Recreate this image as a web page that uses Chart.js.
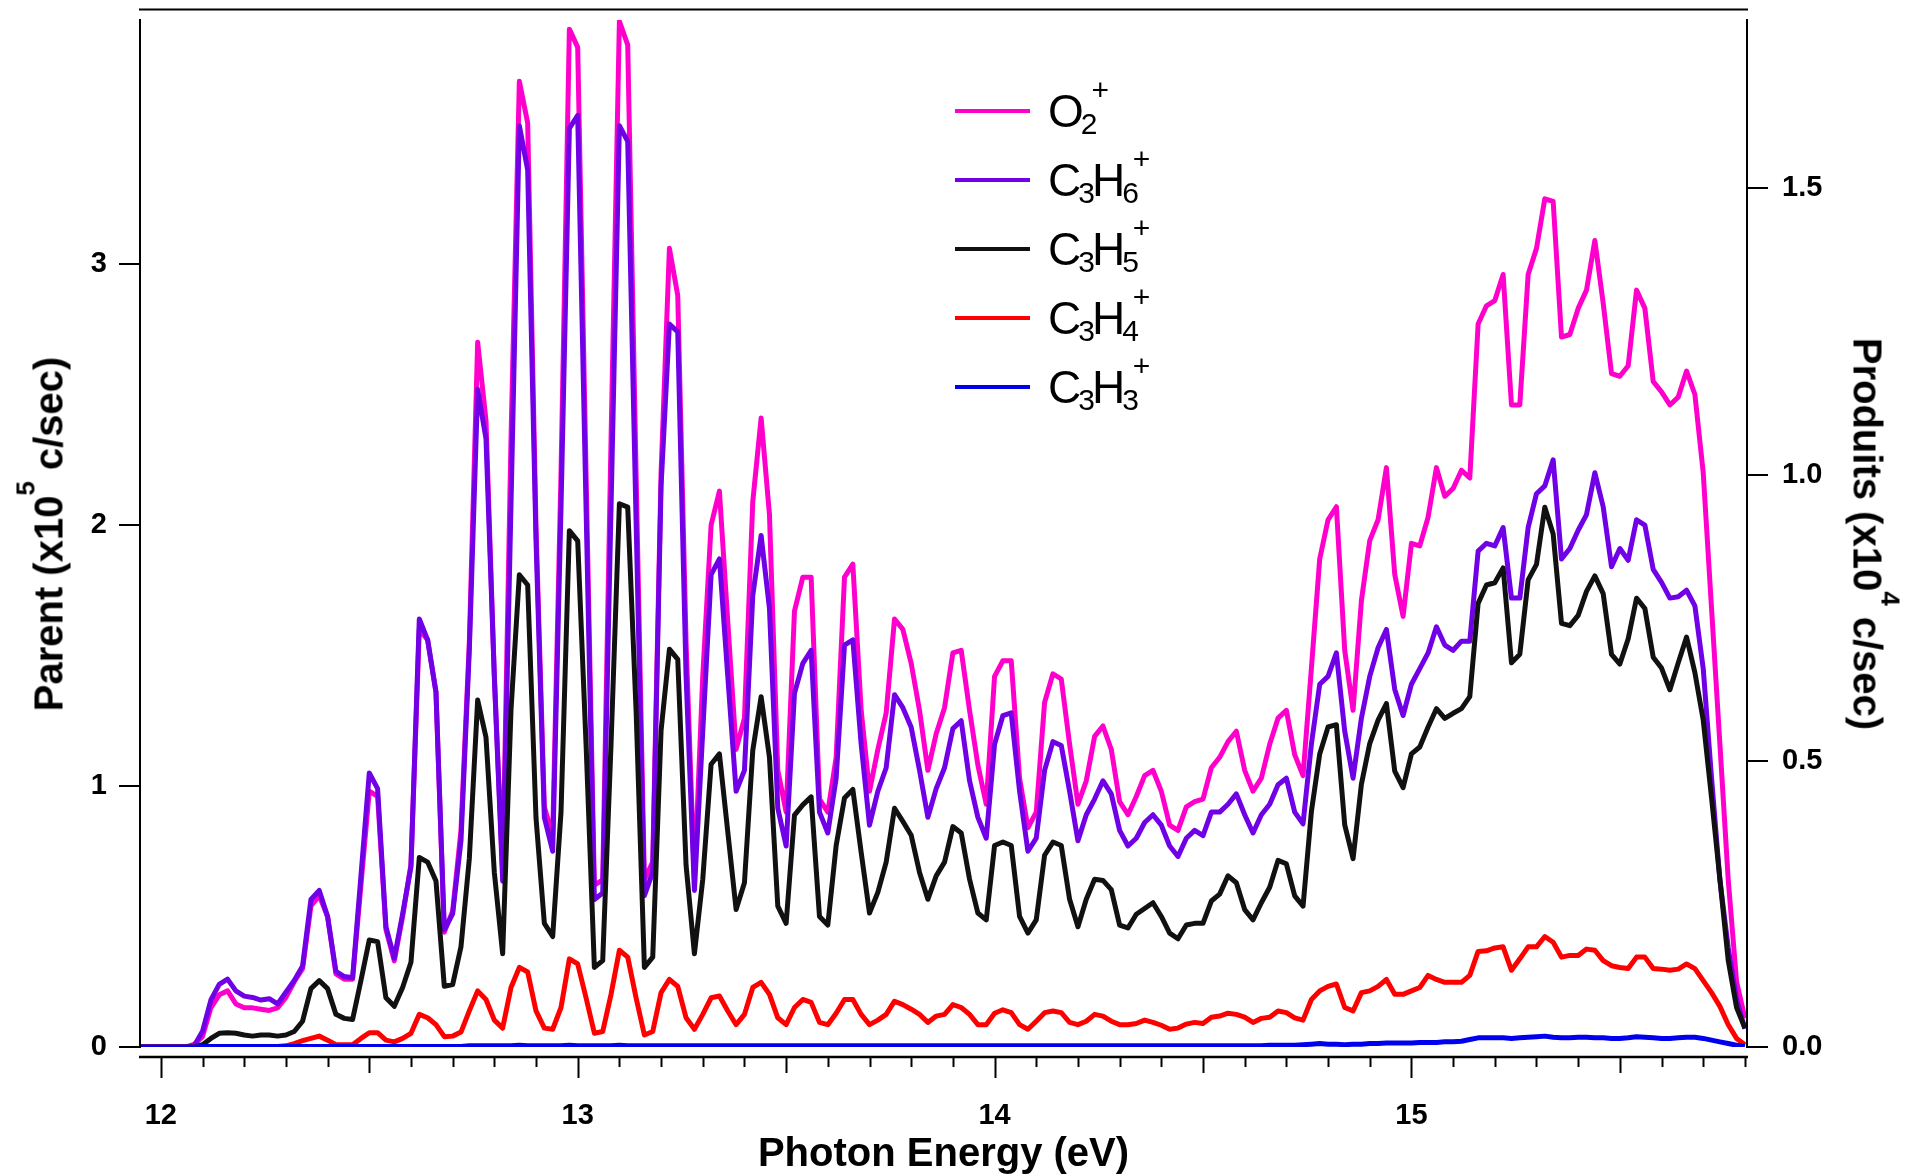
<!DOCTYPE html>
<html>
<head>
<meta charset="utf-8">
<script src="https://cdn.jsdelivr.net/npm/chart.js@4.4.0/dist/chart.umd.min.js"></script>
<style>
  html, body { margin: 0; padding: 0; background: #fff; }
  #wrap { position: relative; width: 1915px; height: 1174px; font-family: "Liberation Sans", Arial, sans-serif; color: #000; }
  #chart { position: absolute; left: 0; top: 0; }
  .title { position: absolute; font-weight: bold; font-size: 40px; line-height: 40px; white-space: nowrap; }
  .title sup { font-size: 26px; line-height: 0; vertical-align: 28px; }
  .leg-line { position: absolute; left: 955px; width: 75px; height: 4px; }
  .leg-text { position: absolute; left: 1048px; font-size: 46px; line-height: 46px; white-space: nowrap; }
  .leg-text sub { font-size: 30px; line-height: 0; vertical-align: -7px; margin: 0 -3px; }
  .leg-text sup { font-size: 30px; line-height: 0; vertical-align: 27px; margin-left: -3px; }
</style>
</head>
<body>
<div id="wrap">
  <canvas id="chart" width="1915" height="1174"></canvas>
  <div class="title" style="left:943.5px; top:1132px; transform: translateX(-50%);">Photon Energy (eV)</div>
  <div class="title" style="left:47px; top:534px; transform: translate(-50%,-50%) rotate(-90deg);">Parent (x10<sup>5</sup> c/sec)</div>
  <div class="title" style="left:1869px; top:534px; transform: translate(-50%,-50%) rotate(90deg);">Produits (x10<sup>4</sup> c/sec)</div>
  <div id="legend"></div>
</div>
<script>
// sampled every 0.02 eV starting at 11.94 eV
const eStart = 11.94;
const eStep = 0.02;

// parent signals, x10^5 c/sec (left axis)
const o2Plus = [
  0, 0, 0,
  0, 0, 0, 0, 0.01, 0.04, 0.15, 0.20, 0.215, 0.165,
  0.15, 0.15, 0.145, 0.14, 0.15, 0.19, 0.25, 0.30, 0.54, 0.58,
  0.50, 0.28, 0.26, 0.26, 0.62, 0.98, 0.96, 0.45, 0.33, 0.50,
  0.70, 1.60, 1.56, 1.36, 0.44, 0.52, 0.83, 1.55, 2.70, 2.40,
  1.42, 0.67, 2.33, 3.70, 3.54, 1.99, 0.92, 0.81, 2.20, 3.90,
  3.83, 2.20, 0.62, 0.64, 2.33, 3.93, 3.84, 2.20, 0.64, 0.71,
  2.20, 3.06, 2.88, 1.55, 0.64, 1.42, 2.00, 2.13, 1.63, 1.14,
  1.26, 2.09, 2.41, 2.04, 1.06, 0.90, 1.67, 1.80, 1.80, 0.95,
  0.90, 1.11, 1.80, 1.85, 1.29, 0.98, 1.14, 1.28, 1.64, 1.60,
  1.47, 1.29, 1.06, 1.20, 1.30, 1.51, 1.52, 1.29, 1.08, 0.93,
  1.42, 1.48, 1.48, 1.03, 0.84, 0.90, 1.32, 1.43, 1.41, 1.16,
  0.93, 1.02, 1.19, 1.23, 1.14, 0.94, 0.89, 0.96, 1.04, 1.06,
  0.98, 0.85, 0.83, 0.92, 0.94, 0.95, 1.07, 1.11, 1.17, 1.21,
  1.06, 0.98, 1.03, 1.16, 1.26, 1.29, 1.12, 1.04, 1.45, 1.87,
  2.02, 2.07, 1.52, 1.29, 1.71, 1.94, 2.02, 2.22, 1.81, 1.65,
  1.93, 1.92, 2.03, 2.22, 2.11, 2.14, 2.21, 2.18, 2.77, 2.84,
  2.86, 2.96, 2.46, 2.46, 2.96, 3.06, 3.25, 3.24, 2.72, 2.73,
  2.83, 2.90, 3.09, 2.85, 2.58, 2.57, 2.61, 2.90, 2.83, 2.55,
  2.51, 2.46, 2.49, 2.59, 2.50, 2.20, 1.68, 1.16, 0.64, 0.25,
  0.11
];
const c3h6Plus = [
  0, 0, 0,
  0, 0, 0, 0, 0.005, 0.06, 0.18, 0.24, 0.26, 0.215,
  0.195, 0.19, 0.18, 0.185, 0.165, 0.21, 0.255, 0.31, 0.565, 0.60,
  0.50, 0.29, 0.27, 0.265, 0.655, 1.05, 0.99, 0.46, 0.34, 0.51,
  0.69, 1.64, 1.56, 1.36, 0.45, 0.51, 0.79, 1.52, 2.52, 2.33,
  1.42, 0.635, 2.08, 3.53, 3.36, 1.94, 0.88, 0.75, 2.07, 3.52,
  3.57, 2.07, 0.565, 0.59, 2.07, 3.53, 3.47, 2.02, 0.58, 0.67,
  2.15, 2.77, 2.74, 1.42, 0.60, 1.21, 1.81, 1.87, 1.42, 0.98,
  1.06, 1.73, 1.96, 1.68, 0.915, 0.77, 1.355, 1.47, 1.52, 0.90,
  0.82, 1.03, 1.54, 1.56, 1.16, 0.85, 0.98, 1.07, 1.35, 1.30,
  1.225, 1.06, 0.88, 0.99, 1.07, 1.22, 1.25, 1.02, 0.88, 0.80,
  1.16, 1.27, 1.28, 0.98, 0.75, 0.80, 1.06, 1.17, 1.155, 0.98,
  0.79, 0.89, 0.95, 1.02, 0.97, 0.83, 0.77, 0.80, 0.86, 0.89,
  0.85, 0.77, 0.73, 0.80, 0.83, 0.81, 0.90, 0.90, 0.93, 0.97,
  0.89, 0.82, 0.89, 0.93, 1.005, 1.03, 0.90, 0.855, 1.16, 1.39,
  1.42, 1.51, 1.21, 1.03, 1.26, 1.42, 1.53, 1.60, 1.37, 1.27,
  1.39, 1.45, 1.51, 1.61, 1.54, 1.52, 1.555, 1.555, 1.90, 1.93,
  1.92, 1.99, 1.72, 1.72, 1.99, 2.12, 2.15, 2.25, 1.87, 1.91,
  1.98, 2.04, 2.20, 2.07, 1.84, 1.91, 1.865, 2.02, 2.00, 1.83,
  1.78, 1.72, 1.725, 1.75, 1.69, 1.45, 1.03, 0.64, 0.38, 0.18,
  0.07
];

// product signals, x10^4 c/sec (right axis)
const c3h5Plus = [
  0, 0, 0,
  0, 0, 0, 0, 0, 0.004, 0.015, 0.024, 0.025, 0.024,
  0.021, 0.019, 0.021, 0.021, 0.019, 0.021, 0.027, 0.045, 0.102, 0.116,
  0.102, 0.057, 0.050, 0.048, 0.116, 0.187, 0.184, 0.086, 0.071, 0.104,
  0.148, 0.331, 0.323, 0.290, 0.106, 0.109, 0.175, 0.329, 0.606, 0.541,
  0.305, 0.163, 0.589, 0.825, 0.807, 0.400, 0.216, 0.193, 0.411, 0.902,
  0.884, 0.530, 0.139, 0.151, 0.530, 0.949, 0.943, 0.589, 0.139, 0.157,
  0.553, 0.695, 0.677, 0.317, 0.163, 0.293, 0.494, 0.512, 0.376, 0.240,
  0.287, 0.518, 0.612, 0.506, 0.246, 0.216, 0.405, 0.423, 0.437, 0.228,
  0.213, 0.352, 0.435, 0.450, 0.340, 0.234, 0.270, 0.323, 0.417, 0.394,
  0.370, 0.305, 0.258, 0.299, 0.323, 0.385, 0.374, 0.293, 0.234, 0.222,
  0.352, 0.358, 0.352, 0.228, 0.199, 0.222, 0.335, 0.358, 0.352, 0.258,
  0.210, 0.258, 0.293, 0.291, 0.275, 0.213, 0.208, 0.232, 0.242, 0.252,
  0.228, 0.199, 0.189, 0.213, 0.216, 0.216, 0.255, 0.267, 0.299, 0.287,
  0.240, 0.222, 0.252, 0.279, 0.326, 0.320, 0.264, 0.246, 0.411, 0.512,
  0.559, 0.563, 0.388, 0.329, 0.459, 0.530, 0.571, 0.600, 0.482, 0.453,
  0.512, 0.524, 0.559, 0.591, 0.574, 0.583, 0.591, 0.612, 0.775, 0.807,
  0.811, 0.837, 0.671, 0.686, 0.816, 0.843, 0.943, 0.896, 0.740, 0.736,
  0.754, 0.796, 0.823, 0.792, 0.686, 0.669, 0.713, 0.784, 0.766, 0.681,
  0.662, 0.624, 0.671, 0.716, 0.654, 0.571, 0.435, 0.293, 0.151, 0.069,
  0.033
];
const c3h4Plus = [
  0, 0, 0,
  0, 0, 0, 0, 0, 0.001, 0.001, 0.001, 0.001, 0.001,
  0.001, 0.001, 0.001, 0.001, 0.001, 0.002, 0.006, 0.011, 0.015, 0.019,
  0.012, 0.004, 0.004, 0.004, 0.015, 0.025, 0.025, 0.012, 0.009, 0.015,
  0.024, 0.057, 0.051, 0.039, 0.018, 0.019, 0.026, 0.063, 0.098, 0.083,
  0.047, 0.033, 0.104, 0.139, 0.131, 0.063, 0.033, 0.031, 0.069, 0.154,
  0.145, 0.086, 0.024, 0.027, 0.092, 0.169, 0.157, 0.086, 0.021, 0.027,
  0.095, 0.118, 0.106, 0.051, 0.031, 0.057, 0.086, 0.089, 0.063, 0.039,
  0.057, 0.104, 0.113, 0.092, 0.051, 0.039, 0.069, 0.083, 0.078, 0.043,
  0.039, 0.059, 0.083, 0.083, 0.057, 0.039, 0.047, 0.057, 0.080, 0.074,
  0.066, 0.057, 0.043, 0.054, 0.057, 0.074, 0.069, 0.057, 0.039, 0.039,
  0.059, 0.065, 0.060, 0.039, 0.031, 0.045, 0.060, 0.063, 0.060, 0.043,
  0.039, 0.045, 0.057, 0.054, 0.045, 0.039, 0.039, 0.041, 0.047, 0.043,
  0.038, 0.031, 0.033, 0.040, 0.043, 0.041, 0.052, 0.054, 0.059, 0.057,
  0.052, 0.043, 0.050, 0.052, 0.063, 0.060, 0.051, 0.047, 0.083, 0.098,
  0.106, 0.110, 0.069, 0.063, 0.095, 0.098, 0.106, 0.118, 0.092, 0.092,
  0.098, 0.104, 0.125, 0.118, 0.113, 0.113, 0.113, 0.125, 0.167, 0.168,
  0.173, 0.175, 0.134, 0.154, 0.175, 0.175, 0.193, 0.183, 0.157, 0.160,
  0.160, 0.171, 0.169, 0.151, 0.142, 0.139, 0.137, 0.157, 0.157, 0.137,
  0.136, 0.134, 0.136, 0.145, 0.137, 0.116, 0.095, 0.071, 0.039, 0.015,
  0.004
];
const c3h3Plus = [
  0, 0, 0,
  0, 0, 0, 0, 0, 0.001, 0.001, 0.001, 0.001, 0.001,
  0.001, 0.001, 0.001, 0.001, 0.001, 0.001, 0.001, 0.001, 0.001, 0.001,
  0.001, 0.001, 0.001, 0.001, 0.001, 0.001, 0.001, 0.001, 0.001, 0.001,
  0.001, 0.001, 0.001, 0.001, 0.001, 0.001, 0.001, 0.002, 0.002, 0.002,
  0.002, 0.002, 0.002, 0.003, 0.002, 0.002, 0.002, 0.002, 0.002, 0.003,
  0.002, 0.002, 0.002, 0.002, 0.002, 0.003, 0.002, 0.002, 0.002, 0.002,
  0.002, 0.002, 0.002, 0.002, 0.002, 0.002, 0.002, 0.002, 0.002, 0.002,
  0.002, 0.002, 0.002, 0.002, 0.002, 0.002, 0.002, 0.002, 0.002, 0.002,
  0.002, 0.002, 0.002, 0.002, 0.002, 0.002, 0.002, 0.002, 0.002, 0.002,
  0.002, 0.002, 0.002, 0.002, 0.002, 0.002, 0.002, 0.002, 0.002, 0.002,
  0.002, 0.002, 0.002, 0.002, 0.002, 0.002, 0.002, 0.002, 0.002, 0.002,
  0.002, 0.002, 0.002, 0.002, 0.002, 0.002, 0.002, 0.002, 0.002, 0.002,
  0.002, 0.002, 0.002, 0.002, 0.002, 0.002, 0.002, 0.002, 0.002, 0.002,
  0.002, 0.002, 0.002, 0.003, 0.003, 0.003, 0.003, 0.004, 0.005, 0.006,
  0.005, 0.005, 0.004, 0.005, 0.005, 0.006, 0.006, 0.007, 0.007, 0.007,
  0.007, 0.008, 0.008, 0.008, 0.009, 0.009, 0.010, 0.013, 0.016, 0.016,
  0.016, 0.016, 0.015, 0.016, 0.017, 0.018, 0.019, 0.017, 0.016, 0.016,
  0.017, 0.017, 0.016, 0.016, 0.015, 0.015, 0.016, 0.018, 0.017, 0.016,
  0.015, 0.015, 0.016, 0.017, 0.017, 0.015, 0.012, 0.009, 0.006, 0.003,
  0.001
];

const seriesNames = ["O2+", "C3H6+", "C3H5+", "C3H4+", "C3H3+"];
const seriesColors = ["#ff00cc", "#7000e6", "#111111", "#ff0000", "#0000ee"];

const xTicks = [12, 13, 14, 15];
const leftTicks = [0, 1, 2, 3];
const rightTicks = [0, 0.5, 1.0, 1.5];

const energy = o2Plus.map((_, i) => Math.round((eStart + i * eStep) * 100) / 100);

// legend built as html so the sub/superscripts are real text
const legend = document.getElementById("legend");
seriesNames.forEach((name, i) => {
  const y = 110.7 + i * 69;
  const line = document.createElement("div");
  line.className = "leg-line";
  line.style.top = (y - 2) + "px";
  line.style.background = seriesColors[i];
  legend.appendChild(line);
  const txt = document.createElement("div");
  txt.className = "leg-text";
  txt.style.top = (y - 23) + "px";
  txt.innerHTML = name.replace(/(\d)/g, "<sub>$1</sub>").replace("+", "<sup>+</sup>");
  legend.appendChild(txt);
});

// x axis sits a little below the zero line, plus a frame line on top
const framePlugin = {
  id: "frame",
  afterDraw(chart) {
    const { ctx, chartArea: a, scales: { x } } = chart;
    ctx.save();
    ctx.strokeStyle = "#000";
    ctx.lineWidth = 2;
    ctx.beginPath();
    ctx.moveTo(a.left - 1, 9.5);
    ctx.lineTo(a.right + 1, 9.5);
    ctx.stroke();
    const yAxis = a.bottom + 10;
    ctx.lineWidth = 2.5;
    ctx.beginPath();
    ctx.moveTo(a.left - 1, yAxis);
    ctx.lineTo(a.right + 1, yAxis);
    ctx.stroke();
    ctx.lineWidth = 2;
    for (let i = 120; i <= 158; i++) {
      const px = Math.round(x.getPixelForValue(i / 10)) + 0.5;
      const len = i % 10 === 0 ? 21 : (i % 5 === 0 ? 16 : 10);
      ctx.beginPath();
      ctx.moveTo(px, yAxis);
      ctx.lineTo(px, yAxis + len);
      ctx.stroke();
    }
    ctx.restore();
  }
};

const tickFont = { family: "Liberation Sans", size: 29, weight: "bold" };

function noPad(s) {
  s.paddingTop = 0;
  s.paddingBottom = 0;
  s.paddingLeft = 0;
  s.paddingRight = 0;
}

function makeSet(label, data, color, axis, order) {
  return {
    label, data, yAxisID: axis, order,
    borderColor: color, backgroundColor: color,
    borderWidth: 5, pointRadius: 0, tension: 0,
    borderJoinStyle: "round", fill: false
  };
}

new Chart(document.getElementById("chart"), {
  type: "line",
  data: {
    labels: energy,
    datasets: [
      makeSet(seriesNames[0], o2Plus, seriesColors[0], "y", 5),
      makeSet(seriesNames[1], c3h6Plus, seriesColors[1], "y", 4),
      makeSet(seriesNames[2], c3h5Plus, seriesColors[2], "y1", 3),
      makeSet(seriesNames[3], c3h4Plus, seriesColors[3], "y1", 2),
      makeSet(seriesNames[4], c3h3Plus, seriesColors[4], "y1", 1)
    ]
  },
  options: {
    responsive: false,
    animation: false,
    devicePixelRatio: 1,
    layout: { padding: { top: 20, left: 0, right: 0, bottom: 0 } },
    plugins: { legend: { display: false }, tooltip: { enabled: false } },
    scales: {
      x: {
        type: "linear", min: 11.95, max: 15.805,
        afterFit: (s) => { s.height = 127; noPad(s); },
        afterBuildTicks: (s) => { s.ticks = xTicks.map((v) => ({ value: v })); },
        grid: { display: false, drawTicks: false },
        border: { display: false },
        ticks: { font: tickFont, color: "#000", padding: 52, maxRotation: 0, autoSkip: false,
                 callback: (v) => String(v) }
      },
      y: {
        position: "left", min: 0, max: 3.935,
        afterFit: (s) => { s.width = 140; noPad(s); },
        afterBuildTicks: (s) => { s.ticks = leftTicks.map((v) => ({ value: v })); },
        grid: { drawOnChartArea: false, tickLength: 21, color: "#000", lineWidth: 2 },
        border: { color: "#000", width: 2, z: 1 },
        ticks: { font: tickFont, color: "#000", padding: 12, callback: (v) => String(v) }
      },
      y1: {
        position: "right", min: 0, max: 1.794,
        afterFit: (s) => { s.width = 168; noPad(s); },
        afterBuildTicks: (s) => { s.ticks = rightTicks.map((v) => ({ value: v })); },
        grid: { drawOnChartArea: false, tickLength: 21, color: "#000", lineWidth: 2 },
        border: { color: "#000", width: 2, z: 1 },
        ticks: { font: tickFont, color: "#000", padding: 14, callback: (v) => v.toFixed(1) }
      }
    }
  },
  plugins: [framePlugin]
});
</script>
</body>
</html>
